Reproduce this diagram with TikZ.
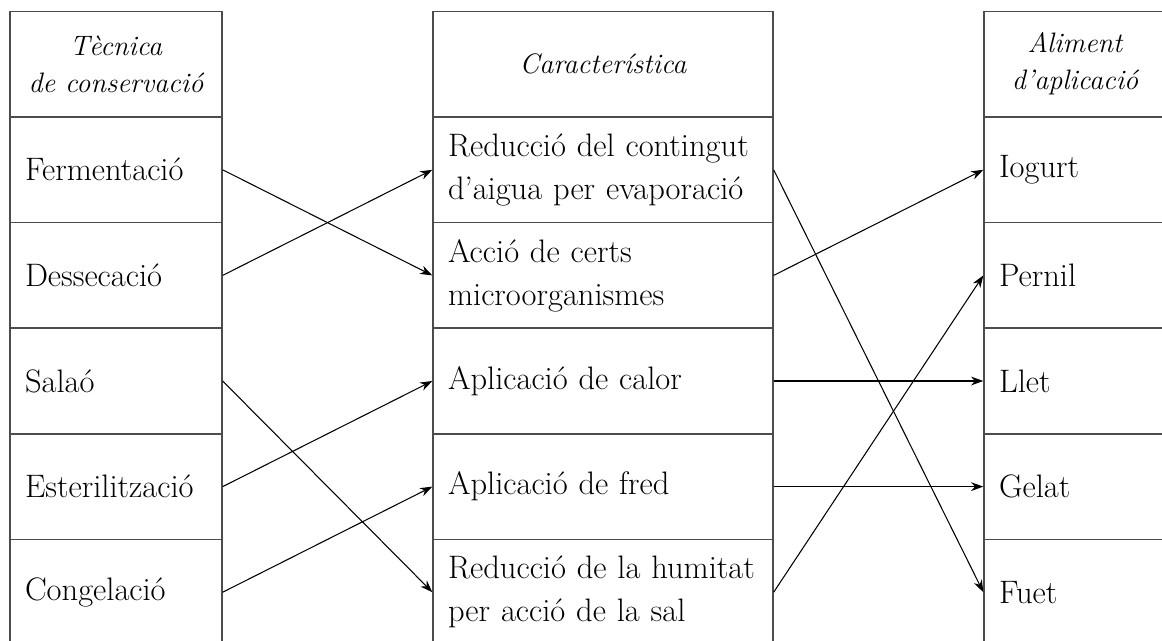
\documentclass[tikz,border=0pt]{standalone}
\usepackage{fontspec}
\usepackage{tikz}
\usetikzlibrary{arrows.meta}

\begin{document}
\begin{tikzpicture}[x=0.02cm,y=-0.02cm,
        box/.style={draw=black!70,line width=0.8pt,minimum height=2.112cm,
            inner xsep=0.3cm,inner ysep=0pt},
        cell/.style={box,align=left,font=\fontsize{18.5}{24.4}\selectfont},
        side/.style={cell,text width=3.64cm},
        wide/.style={cell,text width=6.2cm},
        right/.style={cell,text width=3.04cm},
        head/.style={box,inner xsep=0pt,align=center,
            font=\fontsize{16}{21}\selectfont\itshape},
        arr/.style={-{Stealth[length=7pt,width=5pt]},line width=0.6pt}]
            \clip (0,0) rectangle (1162,640);

            % Tecnica de conservacio
            \node[head,minimum width=4.24cm] (lh) at (116,64) {Tècnica\\de conservació};
            \node[side] (l1) at (116,169.8) {Fermentació};
            \node[side] (l2) at (116,275.4) {Dessecació};
            \node[side] (l3) at (116,381) {Salaó};
            \node[side] (l4) at (116,486.6) {Esterilització};
            \node[side] (l5) at (116,592.2) {Congelació};

            % Caracteristica
            \node[head,minimum width=6.8cm] (mh) at (603,64) {Característica};
            \node[wide] (m1) at (603,169.8) {Reducció del contingut\\d’aigua per evaporació};
            \node[wide] (m2) at (603,275.4) {Acció de certs\\microorganismes};
            \node[wide] (m3) at (603,381) {Aplicació de calor};
            \node[wide] (m4) at (603,486.6) {Aplicació de fred};
            \node[wide] (m5) at (603,592.2) {Reducció de la humitat\\per acció de la sal};

            % Aliment d'aplicacio
            \node[head,minimum width=3.64cm] (rh) at (1075,64) {Aliment\\d’aplicació};
            \node[right] (r1) at (1075,169.8) {Iogurt};
            \node[right] (r2) at (1075,275.4) {Pernil};
            \node[right] (r3) at (1075,381) {Llet};
            \node[right] (r4) at (1075,486.6) {Gelat};
            \node[right] (r5) at (1075,592.2) {Fuet};

            \draw[arr] (l1.east) -- (m2.west);
            \draw[arr] (l2.east) -- (m1.west);
            \draw[arr] (l3.east) -- (m5.west);
            \draw[arr] (l4.east) -- (m3.west);
            \draw[arr] (l5.east) -- (m4.west);

            \draw[arr] (m1.east) -- (r5.west);
            \draw[arr] (m2.east) -- (r1.west);
            \draw[arr] (m3.east) -- (r3.west);
            \draw[arr] (m4.east) -- (r4.west);
            \draw[arr] (m5.east) -- (r2.west);
        \end{tikzpicture}
\end{document}
